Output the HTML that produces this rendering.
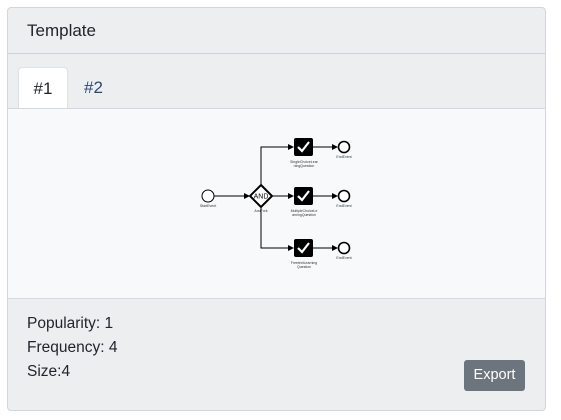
<!DOCTYPE html>
<html><head><style>
body{margin:0;width:561px;height:420px;background:#fff;font-family:"Liberation Sans",sans-serif;overflow:hidden}
.card{position:absolute;left:7px;top:7px;width:537px;height:402px;border:1px solid #d3d5d8;border-radius:4px;background:#eceef0;overflow:hidden}
.hdr{position:absolute;left:0;top:0;width:100%;height:45px;border-bottom:1px solid #d0d2d5}
.hdr span{position:absolute;left:19px;top:13px;font-size:17px;color:#212529}
.tab{position:absolute;top:59px;height:41px;font-size:17px}
.t1{left:10px;width:48px;background:#fff;border:1px solid #dee2e6;border-bottom:none;border-radius:4px 4px 0 0;color:#212529;text-align:center;line-height:41px}
.t2{left:76px;line-height:41px;color:#2c4a6b}
.diag{position:absolute;left:0;top:100px;width:100%;height:189px;background:#f8f9fa;border-top:1px solid #d6d8db;border-bottom:1px solid #d6d8db}
.info{position:absolute;left:19px;font-size:15.5px;color:#212529}
.btn{position:absolute;left:456px;top:352px;width:61px;height:31px;background:#6c757d;color:#fff;border-radius:3px;font-size:14.5px;text-align:center;line-height:31px}
</style></head><body>
<div class="card">
<div class="hdr"><span>Template</span></div>
<div class="tab t1">#1</div>
<div class="tab t2">#2</div>
<div class="diag">
<svg width="537" height="189" style="position:absolute;left:0;top:-1px" font-family="Liberation Sans, sans-serif">
<defs><marker id="a" markerWidth="6" markerHeight="6" refX="5" refY="3" orient="auto"><path d="M0,0L6,3L0,6z" fill="#000"/></marker></defs>
<g stroke="#000" stroke-width="1" fill="none">
<line x1="206" y1="88" x2="241" y2="88" marker-end="url(#a)"/>
<line x1="264" y1="88" x2="285" y2="88" marker-end="url(#a)"/>
<polyline points="253,77 253,39 285,39" marker-end="url(#a)"/>
<polyline points="253,99 253,140 285,140" marker-end="url(#a)"/>
<line x1="305" y1="39" x2="329" y2="39" marker-end="url(#a)"/>
<line x1="305" y1="88" x2="329" y2="88" marker-end="url(#a)"/>
<line x1="305" y1="140" x2="329" y2="140" marker-end="url(#a)"/>
</g>
<circle cx="200" cy="88" r="6" fill="#fff" stroke="#000"/>
<polygon points="253,77 264,88 253,99 242,88" fill="#fff" stroke="#000" stroke-width="2"/>
<text x="253" y="90.5" font-size="7" text-anchor="middle">AND</text>
<g fill="#000"><rect x="286" y="30" width="19" height="18" rx="2"/><rect x="286" y="79" width="19" height="18" rx="2"/><rect x="286" y="131" width="19" height="18" rx="2"/></g>
<g stroke="#fff" stroke-width="2.2" fill="none"><polyline points="290,39 294,43 301,34"/><polyline points="290,88 294,92 301,83"/><polyline points="290,140 294,144 301,135"/></g>
<g fill="#fff" stroke="#000" stroke-width="1.6"><circle cx="336" cy="39" r="5.5"/><circle cx="336" cy="88" r="5.5"/><circle cx="336" cy="140" r="5.5"/></g>
<g font-size="3.5" text-anchor="middle" fill="#333">
<text x="200" y="99">StartEvent</text><text x="253" y="104">AndFork</text>
<text x="296" y="55">SingleChoiceLear</text><text x="296" y="59">ningQuestion</text>
<text x="296" y="104">MultipleChoiceLe</text><text x="296" y="108">arningQuestion</text>
<text x="296" y="156">FreetextLearning</text><text x="296" y="160">Question</text>
<text x="336" y="50">EndEvent</text><text x="336" y="99">EndEvent</text><text x="336" y="151">EndEvent</text>
</g></svg></div>
<div class="info" style="top:307px">Popularity: 1</div>
<div class="info" style="top:331px">Frequency: 4</div>
<div class="info" style="top:355px">Size:4</div>
<div class="btn">Export</div>
</div>
</body></html>
